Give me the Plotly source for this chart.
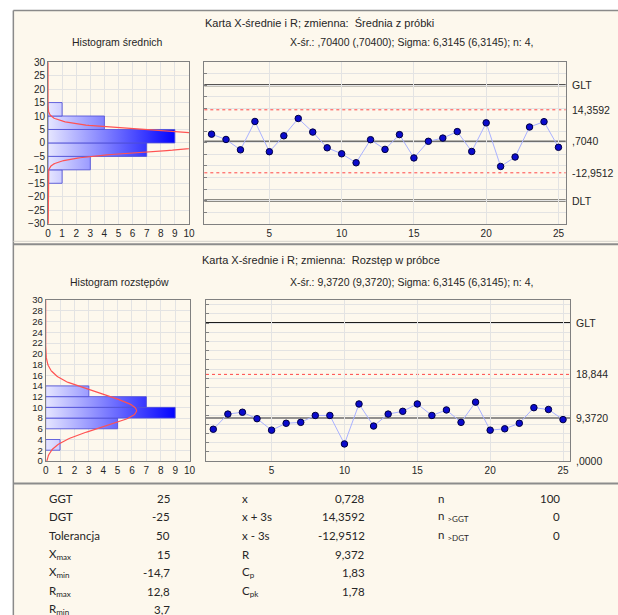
import numpy as np
import plotly.graph_objects as go

W, H = 618, 615

# ---- data -------------------------------------------------------------
samples = list(range(1, 26))
sample_means = [3.8, 1.5, -3.0, 9.3, -3.8, 3.1, 10.6, 4.7, -2.1, -4.7,
                -8.6, 1.4, -2.8, 3.6, -6.5, 0.7, 2.1, 4.9, -3.7, 8.7,
                -10.2, -6.1, 6.9, 9.2, -1.9]
sample_ranges = [6.9, 10.2, 10.6, 9.2, 6.7, 8.2, 8.4, 9.9, 9.9, 3.7,
                 12.4, 7.6, 10.2, 10.8, 12.4, 9.9, 11.1, 8.4, 12.8, 6.7,
                 7.0, 8.2, 11.6, 11.2, 9.0]

n_per_sample = 4
sigma = 6.3145
mean_center, mean_ucl, mean_lcl = 0.704, 14.3592, -12.9512
mean_glt, mean_dlt = 25, -25
range_center, range_ucl, range_lcl = 9.372, 18.844, 0.0
range_glt = 30

mean_bin_edges = [-15, -10, -5, 0, 5, 10, 15]
range_bin_edges = [2, 4, 6, 8, 10, 12, 14]

mean_right_labels = [(mean_glt, "GLT"), (mean_ucl, "14,3592"), (mean_center, ",7040"),
                     (mean_lcl, "-12,9512"), (mean_dlt, "DLT")]
range_right_labels = [(range_glt, "GLT"), (range_ucl, "18,844"), (range_center, "9,3720"),
                      (range_lcl, ",0000")]

title_means = "Karta X-średnie i R; zmienna:  Średnia z próbki"
title_ranges = "Karta X-średnie i R; zmienna:  Rozstęp w próbce"
hist_means_title = "Histogram średnich"
hist_ranges_title = "Histogram rozstępów"
stats_means = "X-śr.: ,70400 (,70400); Sigma: 6,3145 (6,3145); n: 4,"
stats_ranges = "X-śr.: 9,3720 (9,3720); Sigma: 6,3145 (6,3145); n: 4,"

table_col1_labels = ["GGT", "DGT", "Tolerancja", "X<sub>max</sub>", "X<sub>min</sub>",
                     "R<sub>max</sub>", "R<sub>min</sub>"]
table_col1_values = ["25", "-25", "50", "15", "-14,7", "12,8", "3,7"]
table_col2_labels = ["x", "x + 3s", "x - 3s", "R", "C<sub>p</sub>", "C<sub>pk</sub>"]
table_col2_values = ["0,728", "14,3592", "-12,9512", "9,372", "1,83", "1,78"]
table_col3_labels = ["n", "n <sub>&gt;GGT</sub>", "n <sub>&gt;DGT</sub>"]
table_col3_values = ["100", "0", "0"]

# ---- styling ----------------------------------------------------------
CREAM = "#fdf8ed"
GRID = "#e3e3e3"
AXLINE = "#808080"
TXT = "#262626"
CHART_FONT = "Liberation Sans, Arial, sans-serif"
TABLE_FONT = "Lato, sans-serif"


def xdom(a, b):
    return [a / W, b / W]


def ydom(top, bottom):
    return [1 - bottom / H, 1 - top / H]


fig = go.Figure()


def add_histogram(values, edges, xa, ya, center):
    counts, _ = np.histogram(values, bins=edges)
    cmax = counts.max()
    for c, lo, hi in zip(counts, edges[:-1], edges[1:]):
        if c == 0:
            continue
        fig.add_trace(go.Scatter(
            x=[0, c, c, 0, 0], y=[lo, lo, hi, hi, lo],
            mode="lines", fill="toself",
            fillgradient=dict(type="horizontal",
                              colorscale=[[0, "#e6e6ff"], [1, "#0000ff"]],
                              start=0, stop=cmax),
            line=dict(color="rgba(80,80,215,0.85)", width=1),
            xaxis=xa, yaxis=ya, hoverinfo="skip", showlegend=False))
    # fitted normal curve scaled to the histogram counts
    bw = edges[1] - edges[0]
    s = sigma / np.sqrt(n_per_sample)
    yy = np.linspace(center - 40, center + 40, 600)
    xx = len(values) * bw * np.exp(-0.5 * ((yy - center) / s) ** 2) / (s * np.sqrt(2 * np.pi))
    fig.add_trace(go.Scatter(x=xx, y=yy, mode="lines",
                             line=dict(color="#ff5252", width=1.2),
                             xaxis=xa, yaxis=ya, hoverinfo="skip", showlegend=False))


def add_control(values, xa, ya):
    fig.add_trace(go.Scatter(
        x=samples, y=values, mode="lines+markers",
        line=dict(color="#a9b1ff", width=1),
        marker=dict(symbol="circle", size=6.5, color="#0a0acc",
                    line=dict(color="#000040", width=1)),
        xaxis=xa, yaxis=ya, hoverinfo="skip", showlegend=False))


add_histogram(sample_means, mean_bin_edges, "x", "y", mean_center)
add_control(sample_means, "x2", "y2")
add_histogram(sample_ranges, range_bin_edges, "x3", "y3", range_center)
add_control(sample_ranges, "x4", "y4")

shapes = []
# panel background and frame
shapes.append(dict(type="rect", xref="paper", yref="paper", x0=10.5 / W, x1=1.05,
                   y0=-0.05, y1=1 - 4.5 / H, fillcolor=CREAM, line=dict(width=0), layer="below"))
shapes.append(dict(type="line", xref="paper", yref="paper", x0=10.5 / W, x1=1.05,
                   y0=1 - 4.5 / H, y1=1 - 4.5 / H, line=dict(color="#8a8a8a", width=1.5), layer="below"))
shapes.append(dict(type="line", xref="paper", yref="paper", x0=10.5 / W, x1=10.5 / W,
                   y0=-0.05, y1=1 - 4.5 / H, line=dict(color="#8a8a8a", width=1.5), layer="below"))
shapes.append(dict(type="line", xref="paper", yref="paper", x0=10.5 / W, x1=1.05,
                   y0=1 - 240 / H, y1=1 - 240 / H, line=dict(color="#d6d3cc", width=1), layer="below"))
for yy in (243, 487):
    shapes.append(dict(type="line", xref="paper", yref="paper", x0=10.5 / W, x1=1.05,
                       y0=1 - yy / H, y1=1 - yy / H, line=dict(color="#8c8c8c", width=2), layer="below"))


def control_lines(xa, ya, glt, ucl, center, lcl, dlt=None):
    xd = xa + " domain"
    out = [
        dict(type="line", xref=xd, yref=ya, x0=0, x1=1, y0=glt, y1=glt,
             line=dict(color="#1c1c1c", width=2), layer="below"),
        dict(type="line", xref=xd, yref=ya, x0=0, x1=1, y0=ucl, y1=ucl,
             line=dict(color="#ff4646", width=1, dash="dot"), layer="below"),
        dict(type="line", xref=xd, yref=ya, x0=0, x1=1, y0=center, y1=center,
             line=dict(color="#6e6e6e", width=1.5), layer="below"),
    ]
    if dlt is not None:
        out.append(dict(type="line", xref=xd, yref=ya, x0=0, x1=1, y0=lcl, y1=lcl,
                        line=dict(color="#ff4646", width=1, dash="dot"), layer="below"))
        out.append(dict(type="line", xref=xd, yref=ya, x0=0, x1=1, y0=dlt, y1=dlt,
                        line=dict(color="#1c1c1c", width=2), layer="below"))
    return out


shapes += control_lines("x2", "y2", mean_glt, mean_ucl, mean_center, mean_lcl, mean_dlt)
shapes += control_lines("x4", "y4", range_glt, range_ucl, range_center, range_lcl)

annotations = []


def text(x, y, s, size=11, anchor="center", family=CHART_FONT):
    annotations.append(dict(xref="paper", yref="paper", x=x / W, y=1 - y / H, text=s,
                            showarrow=False, xanchor=anchor, yanchor="middle",
                            font=dict(family=family, size=size, color=TXT)))


text(321, 17, title_means)
text(116, 37, hist_means_title, size=10.5)
text(415, 37, stats_means, size=10.5)
text(323, 259, title_ranges)
text(118, 281, hist_ranges_title, size=10.5)
text(415, 281, stats_ranges, size=10.5)

for xa, ya, labels in (("x2", "y2", mean_right_labels), ("x4", "y4", range_right_labels)):
    for val, lab in labels:
        annotations.append(dict(xref=xa + " domain", yref=ya, x=1, y=val, text=lab,
                                showarrow=False, xanchor="left", yanchor="middle", xshift=4,
                                font=dict(family=CHART_FONT, size=10.5, color=TXT)))

# summary table
row_y = [502, 521, 540, 559, 578, 597, 616]
for labels, values, lx, vx in ((table_col1_labels, table_col1_values, 45, 172),
                               (table_col2_labels, table_col2_values, 241, 369),
                               (table_col3_labels, table_col3_values, 439, 567)):
    for i, (lab, val) in enumerate(zip(labels, values)):
        text(lx, row_y[i], lab, size=11.5, anchor="left", family=TABLE_FONT)
        text(vx, row_y[i], val, size=11.5, anchor="right", family=TABLE_FONT)

axis_common = dict(showline=True, linecolor=AXLINE, linewidth=1, mirror=True,
                   showgrid=True, gridcolor=GRID, gridwidth=1, zeroline=False,
                   tickfont=dict(family=CHART_FONT, size=10, color=TXT), ticks="")

fig.update_layout(
    width=W, height=H,
    margin=dict(l=0, r=0, t=0, b=0),
    paper_bgcolor="white", plot_bgcolor="white",
    showlegend=False,
    shapes=shapes, annotations=annotations,
    xaxis=dict(axis_common, domain=xdom(45.7, 188.7), anchor="y", range=[0, 10], dtick=1, tick0=0),
    yaxis=dict(axis_common, domain=ydom(57.3, 222), anchor="x", range=[-30, 30], dtick=5, tick0=0),
    xaxis2=dict(axis_common, domain=xdom(204.3, 571), anchor="y2", range=[0.5, 25.5],
                tickvals=[5, 10, 15, 20, 25]),
    yaxis2=dict(axis_common, domain=ydom(57.3, 222), anchor="x2", range=[-35, 35], dtick=5, tick0=0,
                showticklabels=False, ticks="inside", ticklen=3, tickcolor=AXLINE),
    xaxis3=dict(axis_common, domain=xdom(43.3, 189.3), anchor="y3", range=[0, 10], dtick=1, tick0=0),
    yaxis3=dict(axis_common, domain=ydom(300, 464), anchor="x3", range=[0, 30], dtick=2, tick0=0,
                tickfont=dict(family=CHART_FONT, size=9.5, color=TXT)),
    xaxis4=dict(axis_common, domain=xdom(206, 575.7), anchor="y4", range=[0.5, 25.5],
                tickvals=[5, 10, 15, 20, 25]),
    yaxis4=dict(axis_common, domain=ydom(300, 464), anchor="x4", range=[0, 35], dtick=2, tick0=0,
                showticklabels=False, ticks="inside", ticklen=3, tickcolor=AXLINE),
)

fig.write_html("out.html")
